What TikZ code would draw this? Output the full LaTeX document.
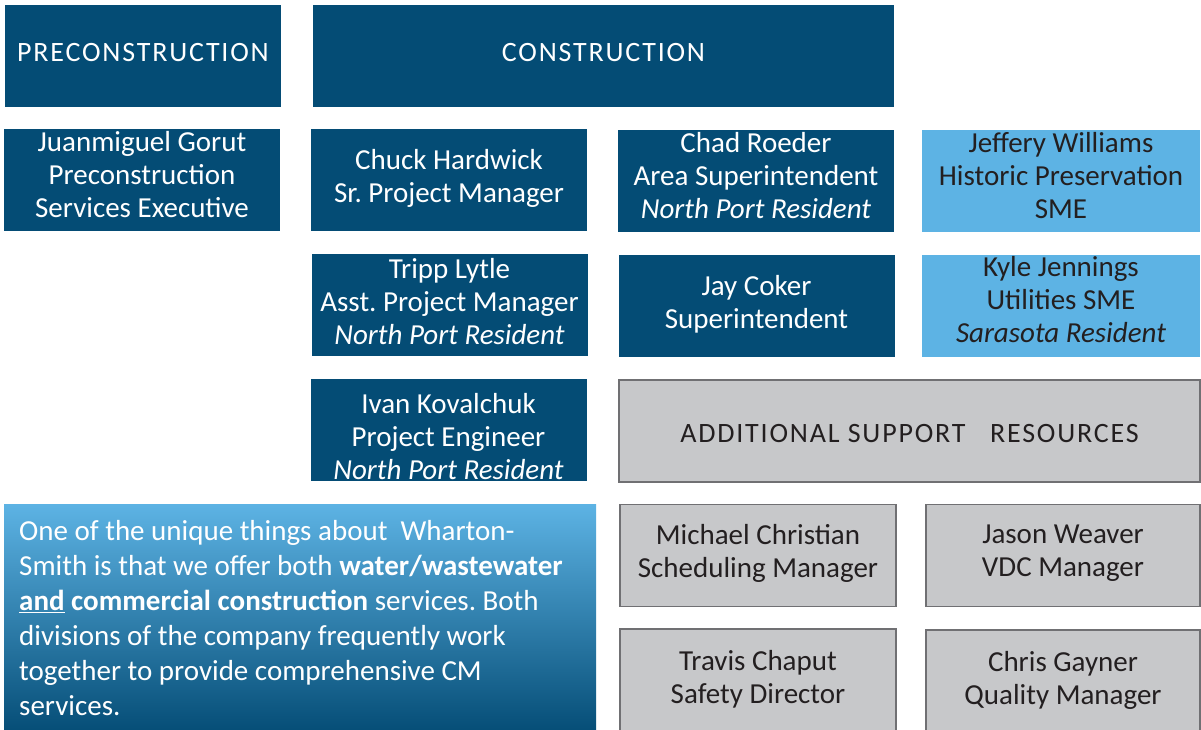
\documentclass[tikz,border=0pt]{standalone}
\usepackage{fontspec}
\setmainfont{Carlito}
\usepackage{xcolor}
\definecolor{wsdark}{RGB}{4,76,117}
\definecolor{wslight}{RGB}{93,179,228}
\definecolor{wsgray}{RGB}{199,200,202}
\definecolor{wsedge}{RGB}{112,112,115}
\definecolor{wsink}{RGB}{35,31,32}
\frenchspacing

\begin{document}
\begin{tikzpicture}[x=1pt, y=-1pt,
    card/.style={minimum width=276pt, minimum height=102pt, inner sep=0pt},
    darkcard/.style={card, fill=wsdark},
    lightcard/.style={card, fill=wslight},
    graycard/.style={card, fill=wsgray, draw=wsedge, line width=1.2pt},
    txt/.style={align=center, inner sep=0pt, font=\fontsize{29}{33}\selectfont},
    wtxt/.style={txt, text=white},
    ktxt/.style={txt, text=wsink},
    heading/.style={font=\fontsize{28}{30}\selectfont\addfontfeature{LetterSpace=6.5}}]
  \clip (0,0) rectangle (1201,729);
  \fill[white] (0,0) rectangle (1201,729);

  % headings
  \node[darkcard, label={[wtxt, heading, yshift=3pt]center:PRECONSTRUCTION}] (precon) at (143,56) {};
  \node[darkcard, minimum width=581pt, label={[wtxt, heading, yshift=3pt]center:CONSTRUCTION}] (constr) at (603.5,56) {};

  % first row
  \node[darkcard, label={[wtxt, yshift=5pt]center:Juanmiguel Gorut\\Preconstruction\\Services Executive}] (juan) at (142,180) {};
  \node[darkcard, label={[wtxt, yshift=1.5pt]center:Chuck Hardwick\\Sr. Project Manager}] (chuck) at (449,180) {};
  \node[darkcard, label={[wtxt, yshift=5pt]center:Chad Roeder\\Area Superintendent\\\textit{North Port Resident}}] (chad) at (756,180.5) {};
  \node[lightcard, minimum width=278pt, label={[ktxt, yshift=5pt]center:Jeffery Williams\\Historic Preservation\\SME}] (jeff) at (1061,180.5) {};

  % second row
  \node[darkcard, label={[wtxt, yshift=3pt]center:Tripp Lytle\\Asst. Project Manager\\\textit{North Port Resident}}] (tripp) at (449.5,305) {};
  \node[darkcard, label={[wtxt, yshift=1.5pt]center:Jay Coker\\Superintendent}] (jay) at (756.5,305.5) {};
  \node[lightcard, minimum width=278pt, label={[ktxt, yshift=6pt]center:Kyle Jennings\\Utilities SME\\\textit{Sarasota Resident}}] (kyle) at (1061,305.5) {};

  % third row
  \node[darkcard, label={[wtxt, yshift=-7pt]center:Ivan Kovalchuk\\Project Engineer\\\textit{North Port Resident}}] (ivan) at (448.5,430) {};
  \node[graycard, minimum width=581pt, label={[ktxt, heading, yshift=-3pt]center:ADDITIONAL SUPPORT\ \ \ RESOURCES}] (addl) at (909.5,431) {};

  % note box
  \shade[top color=wslight, bottom color=wsdark] (4,504) rectangle (596,735);
  \node[anchor=north west, align=left, text=white, inner sep=0pt,
    font=\fontsize{29}{35}\selectfont] (blurb) at (19,520)
    {One of the unique things about\ \ Wharton-\\
     Smith is that we offer both \textbf{water/wastewater}\\
     \textbf{\underline{and} commercial construction} services. Both\\
     divisions of the company frequently work\\
     together to provide comprehensive CM\\
     services.};

  % support staff
  \node[graycard, label={[ktxt, yshift=2pt]center:Michael Christian\\Scheduling Manager}] (michael) at (758,555.5) {};
  \node[graycard, minimum width=274pt, label={[ktxt, yshift=2pt]center:Jason Weaver\\VDC Manager}] (jason) at (1063,555.5) {};
  \node[graycard, label={[ktxt, yshift=1pt]center:Travis Chaput\\Safety Director}] (travis) at (758,680) {};
  \node[graycard, minimum width=274pt, label={[ktxt, yshift=1pt]center:Chris Gayner\\Quality Manager}] (chris) at (1063,681) {};
\end{tikzpicture}
\end{document}
